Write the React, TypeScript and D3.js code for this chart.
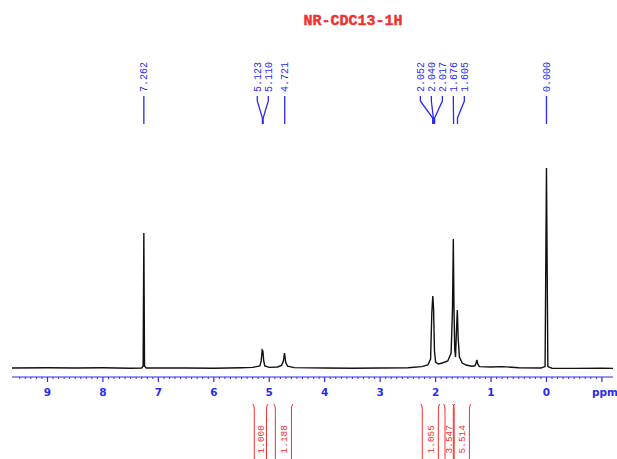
import React from 'react';
import * as d3 from 'd3';

// spectrum trace: [ppm, intensity]
const spectrum: [number, number][] = [
  [9.64, 0.5], [9.0, 0.6], [8.5, 0.5], [8.0, 0.6], [7.5, 0.4], [7.3, 0.5],
  [7.275, 1.5], [7.262, 68], [7.25, 1.5], [7.22, 0.5], [6.5, 0.5], [6.0, 0.4],
  [5.5, 0.6], [5.3, 0.8], [5.17, 1.5], [5.145, 4], [5.128, 9.5], [5.115, 9],
  [5.1, 4], [5.08, 1.5], [5.0, 0.8], [4.85, 1.0], [4.78, 1.8], [4.745, 4],
  [4.724, 8], [4.705, 3.5], [4.67, 1.4], [4.55, 0.7], [4.0, 0.5], [3.5, 0.4],
  [3.0, 0.5], [2.5, 0.6], [2.25, 1.2], [2.14, 2], [2.09, 5], [2.068, 28],
  [2.05, 36.5], [2.036, 30], [2.02, 9], [2.0, 3.5], [1.95, 2.5], [1.88, 3],
  [1.78, 4], [1.72, 8], [1.695, 30], [1.68, 65], [1.668, 30], [1.655, 10],
  [1.64, 6], [1.625, 18], [1.608, 29.5], [1.592, 15], [1.57, 6], [1.52, 3],
  [1.45, 2], [1.35, 1.4], [1.29, 1.6], [1.27, 3], [1.255, 4.5], [1.24, 2.5],
  [1.21, 1.2], [1.0, 1.0], [0.8, 1.2], [0.5, 0.6], [0.1, 0.5], [0.025, 1.2],
  [0.0, 100.5], [-0.025, 1.2], [-0.1, 0.4], [-0.5, 0.3], [-1.0, 0.4], [-1.2, 0.3],
];

// peak picking labels
const peakLabels = ['7.262', '5.123', '5.110', '4.721', '2.052', '2.040', '2.017', '1.676', '1.605', '0.000'];

// integral regions [from ppm, to ppm, value]
const integrals: [number, number, string][] = [
  [5.27, 5.05, '1.000'],
  [4.89, 4.6, '1.188'],
  [2.24, 1.95, '1.055'],
  [1.83, 1.68, '3.547'],
  [1.665, 1.39, '5.514'],
];

const axisTicks = [9, 8, 7, 6, 5, 4, 3, 2, 1, 0, -1];
const title = 'NR-CDC13-1H';

const BLUE = '#2b2bf0';
const RED = '#f03030';

// spread label positions so they don't overlap, keeping groups centered on peaks
function spreadLabels(xs: number[], gap: number): number[] {
  let groups = xs.map((x) => ({ members: [x], center: x }));
  let changed = true;
  while (changed) {
    changed = false;
    for (let i = 0; i < groups.length - 1; i++) {
      const a = groups[i];
      const b = groups[i + 1];
      const aEnd = a.center + ((a.members.length - 1) * gap) / 2;
      const bStart = b.center - ((b.members.length - 1) * gap) / 2;
      if (bStart - aEnd < gap) {
        const members = a.members.concat(b.members);
        groups.splice(i, 2, { members, center: d3.mean(members) as number });
        changed = true;
        break;
      }
    }
  }
  const out: number[] = [];
  groups.forEach((g) => {
    g.members.forEach((_, i) => out.push(g.center + (i - (g.members.length - 1) / 2) * gap));
  });
  return out;
}

export default function App() {
  const width = 617;
  const height = 459;

  const x = d3.scaleLinear().domain([9.64, -1.2]).range([12, 613]);
  const y = d3.scaleLinear().domain([0, 100]).range([369, 169]);

  const line = d3
    .line<[number, number]>()
    .x((d) => x(d[0]))
    .y((d) => y(d[1]));

  const axisY = 377;
  const minorTicks = d3.range(-10, 96).map((v) => v / 10).filter((v) => !Number.isInteger(v));

  const peakX = peakLabels.map((p) => x(+p));
  const labelX = spreadLabels(peakX, 11);

  const labelBottom = 92;
  const lineTop = 96;

  return (
    <svg
      width={width}
      height={height}
      style={{ position: 'absolute', left: 0, top: 0, background: '#fff' }}
    >
      <rect width={width} height={height} fill="#fff" />

      <text
        x={353}
        y={25}
        textAnchor="middle"
        fill={RED}
        stroke={RED}
        strokeWidth={0.4}
        fontFamily="'Liberation Mono', 'DejaVu Sans Mono', monospace"
        fontWeight="bold"
        fontSize={15}
      >
        {title}
      </text>

      {/* peak labels */}
      {peakLabels.map((p, i) => {
        const lx = labelX[i];
        const px = peakX[i];
        return (
          <g key={p}>
            <text
              transform={`translate(${lx + 3.5},${labelBottom}) rotate(-90)`}
              fill={BLUE}
              fontFamily="'Liberation Mono', 'DejaVu Sans Mono', monospace"
              fontSize={10}
            >
              {p}
            </text>
            <path
              d={`M${lx},${lineTop} L${lx},${lineTop + 5} L${px},${lineTop + 22} L${px},${lineTop + 28}`}
              fill="none"
              stroke={BLUE}
              strokeWidth={1.3}
            />
          </g>
        );
      })}

      {/* spectrum */}
      <path d={line(spectrum) ?? ''} fill="none" stroke="#111" strokeWidth={1.4} />

      {/* axis */}
      <line x1={12} x2={613} y1={axisY} y2={axisY} stroke={BLUE} strokeWidth={1} />
      {minorTicks.map((t) => (
        <line key={t} x1={x(t)} x2={x(t)} y1={axisY} y2={axisY + 2} stroke={BLUE} strokeWidth={1} />
      ))}
      {axisTicks.map((t) => (
        <g key={t}>
          <line x1={x(t)} x2={x(t)} y1={axisY} y2={axisY + 5} stroke={BLUE} strokeWidth={1.2} />
          <text
            x={t === -1 ? x(t) + 3 : x(t)}
            y={396}
            textAnchor="middle"
            fill={BLUE}
            fontFamily="'DejaVu Sans', sans-serif"
            fontWeight="bold"
            fontSize={10.5}
          >
            {t === -1 ? 'ppm' : t}
          </text>
        </g>
      ))}

      {/* integrals */}
      {integrals.map(([a, b, v]) => {
        const x1 = x(a);
        const x2 = x(b);
        return (
          <g key={v}>
            <path
              d={`M${x1 - 1.5},404 Q${x1},405 ${x1},410 L${x1},${height}`}
              fill="none"
              stroke={RED}
              strokeWidth={1}
            />
            <path
              d={`M${x2 + 1.5},404 Q${x2},405 ${x2},410 L${x2},${height}`}
              fill="none"
              stroke={RED}
              strokeWidth={1}
            />
            <text
              transform={`translate(${(x1 + x2) / 2 + 3.2},425) rotate(-90)`}
              textAnchor="end"
              fill={RED}
              fontFamily="'Liberation Mono', 'DejaVu Sans Mono', monospace"
              fontSize={9.5}
            >
              {v}
            </text>
          </g>
        );
      })}
    </svg>
  );
}
